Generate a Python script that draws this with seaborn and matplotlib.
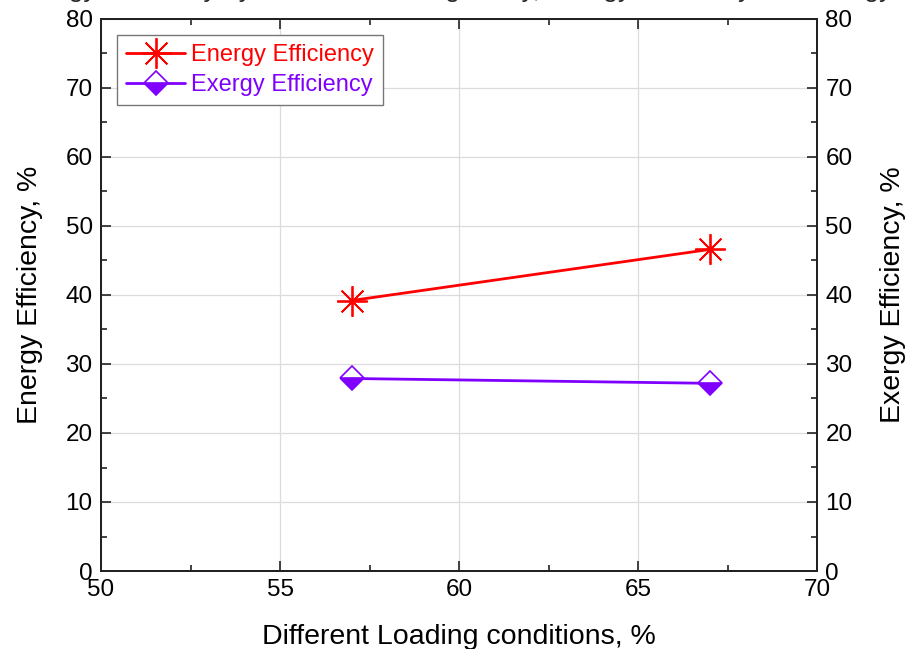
import matplotlib
matplotlib.use("Agg")
import matplotlib.pyplot as plt
import seaborn as sns
import pandas as pd
from matplotlib.ticker import MultipleLocator

loading = [57, 67]
energy_eff = [39.2, 46.6]
exergy_eff = [27.9, 27.2]
series_names = ["Energy Efficiency", "Exergy Efficiency"]

df = pd.DataFrame({
    "loading": loading * 2,
    "eff": energy_eff + exergy_eff,
    "series": [series_names[0]] * 2 + [series_names[1]] * 2,
})

sns.set_style("ticks")
plt.rcParams['font.family'] = ['Liberation Sans', 'DejaVu Sans']

fig = plt.figure(figsize=(9.06, 6.49), dpi=100)
ax = fig.add_axes([101/906, 1-571/649, (817-101)/906, (571-19)/649])

red = "#FF0000"
purple = "#8000FF"

sns.lineplot(data=df[df.series == series_names[0]], x="loading", y="eff", ax=ax,
             color=red, lw=2, marker=(8, 2, 0), markersize=22, markeredgewidth=1.3,
             markeredgecolor=red, label=series_names[0])
sns.lineplot(data=df[df.series == series_names[1]], x="loading", y="eff", ax=ax,
             color=purple, lw=2, marker="D", markersize=12, fillstyle="bottom",
             markerfacecolor=purple, markerfacecoloralt="white", markeredgecolor=purple,
             markeredgewidth=1.2, label=series_names[1])

ax.set_xlim(50, 70)
ax.set_ylim(0, 80)
ax.xaxis.set_major_locator(MultipleLocator(5))
ax.xaxis.set_minor_locator(MultipleLocator(2.5))
ax.yaxis.set_major_locator(MultipleLocator(10))
ax.yaxis.set_minor_locator(MultipleLocator(5))
ax.grid(True, which="major", color="#DCDCDC", lw=0.9)
ax.set_axisbelow(True)
ax.tick_params(which="both", direction="in", top=True, right=False, labelsize=17.5,
               colors="#222222", labelcolor="black")
ax.tick_params(which="major", length=7, width=1.2, pad=6)
ax.tick_params(which="minor", length=4, width=1.2)
for s in ax.spines.values():
    s.set_linewidth(1.4)
    s.set_color("#222222")
ax.set_xlabel("Different Loading conditions, %", fontsize=20.5, labelpad=16, color="black")
ax.set_ylabel("Energy Efficiency, %", fontsize=20.5, labelpad=16, color="black")

ax2 = ax.twinx()
ax2.set_ylim(0, 80)
ax2.yaxis.set_major_locator(MultipleLocator(10))
ax2.yaxis.set_minor_locator(MultipleLocator(5))
ax2.tick_params(which="both", direction="in", labelsize=17.5, colors="#222222", labelcolor="black")
ax2.tick_params(which="major", length=7, width=1.2, pad=6)
ax2.tick_params(which="minor", length=4, width=1.2)
for s in ax2.spines.values():
    s.set_linewidth(1.4)
    s.set_color("#222222")
ax2.set_ylabel("Exergy Efficiency, %", fontsize=20.5, labelpad=20, color="black")

leg = ax.legend(loc="upper left", bbox_to_anchor=(0.022, 0.971), borderaxespad=0, fontsize=17,
                frameon=True, fancybox=False, edgecolor="#777777", framealpha=1,
                handlelength=2.5, borderpad=0.4, labelspacing=0.32, handletextpad=0.25)
leg.get_frame().set_linewidth(1.0)
for txt, c in zip(leg.get_texts(), [red, purple]):
    txt.set_color(c)

fig.text(0.5, 1 + 3/649, "Energy Efficiency by Different Loading Study, Energy Efficiency and Exergy",
         ha="center", va="baseline", fontsize=19)

fig.savefig("out.png", dpi=100)
